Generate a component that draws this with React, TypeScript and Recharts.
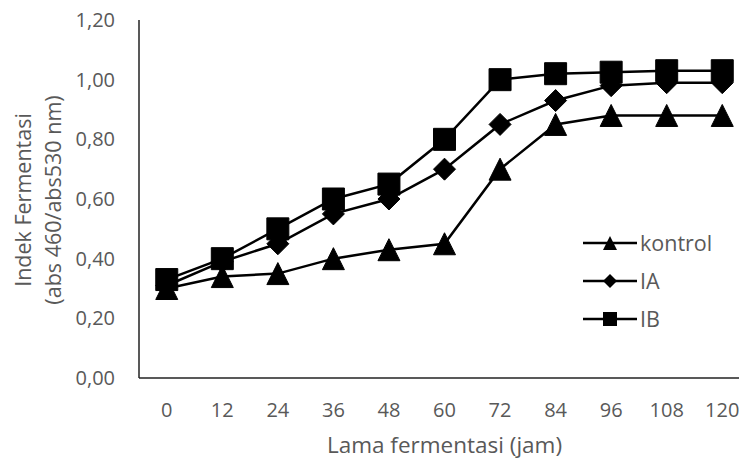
import { Legend, Line, LineChart, XAxis, YAxis } from "recharts";

const hours = ["0", "12", "24", "36", "48", "60", "72", "84", "96", "108", "120"];
const kontrol = [0.3, 0.34, 0.35, 0.4, 0.43, 0.45, 0.7, 0.85, 0.88, 0.88, 0.88];
const seriesIA = [0.31, 0.39, 0.45, 0.55, 0.6, 0.7, 0.85, 0.93, 0.98, 0.99, 0.99];
const seriesIB = [0.33, 0.4, 0.5, 0.6, 0.65, 0.8, 1.0, 1.02, 1.025, 1.03, 1.03];
const yTicks = [0, 0.2, 0.4, 0.6, 0.8, 1.0, 1.2];

const data = hours.map((jam, i) => ({
  jam,
  kontrol: kontrol[i],
  IA: seriesIA[i],
  IB: seriesIB[i],
}));

const FONT = "'Open Sans', sans-serif";
const TEXT = "#595959";

type Shape = "triangle" | "diamond" | "square";

function markerPath(shape: Shape, cx: number, cy: number, r: number) {
  if (shape === "triangle") {
    return `M${cx},${cy - r} L${cx + r},${cy + r} L${cx - r},${cy + r} Z`;
  }
  if (shape === "diamond") {
    return `M${cx},${cy - r} L${cx + r},${cy} L${cx},${cy + r} L${cx - r},${cy} Z`;
  }
  return `M${cx - r},${cy - r} H${cx + r} V${cy + r} H${cx - r} Z`;
}

const makeDot = (shape: Shape) => (props: any) => {
  const { cx, cy, index } = props;
  if (cx == null || cy == null) return <g key={index} />;
  return <path key={index} d={markerPath(shape, cx, cy, 11)} fill="#000" stroke="#000" />;
};

const legendItems: { name: string; shape: Shape }[] = [
  { name: "kontrol", shape: "triangle" },
  { name: "IA", shape: "diamond" },
  { name: "IB", shape: "square" },
];

function renderLegend() {
  return (
    <div style={{ fontFamily: FONT, fontSize: 21.5, color: TEXT }}>
      {legendItems.map((item) => (
        <div key={item.name} style={{ display: "flex", alignItems: "center", height: 38 }}>
          <svg width={57} height={20} style={{ display: "block" }}>
            <line x1={0} y1={10} x2={54} y2={10} stroke="#000" strokeWidth={2.5} />
            <path d={markerPath(item.shape, 27, 10, 7)} fill="#000" />
          </svg>
          <span style={{ lineHeight: "24px" }}>{item.name}</span>
        </div>
      ))}
    </div>
  );
}

function YTitle() {
  const cy = 200;
  return (
    <g fontFamily={FONT} fontSize={21.5} fill={TEXT} textAnchor="middle">
      <text x={22} y={cy} dominantBaseline="central" transform={`rotate(-90, 22, ${cy})`}>
        Indek Fermentasi
      </text>
      <text x={52} y={cy} dominantBaseline="central" transform={`rotate(-90, 52, ${cy})`}>
        (abs 460/abs530 nm)
      </text>
    </g>
  );
}

function XTitle(props: any) {
  const { viewBox } = props;
  const cx = viewBox.x + viewBox.width / 2;
  return (
    <text x={cx} y={453} textAnchor="middle" fontFamily={FONT} fontSize={22.5} fill={TEXT}>
      Lama fermentasi (jam)
    </text>
  );
}

export default function App() {
  return (
    <div
      style={{
        position: "absolute",
        left: 0,
        top: 0,
        width: 739,
        height: 462,
        overflow: "hidden",
        background: "#fff",
      }}
    >
      <LineChart width={760} height={462} data={data} margin={{ top: 20, right: 10, left: 0, bottom: 0 }}>
        <XAxis
          dataKey="jam"
          height={84}
          padding={{ left: 27.75, right: 27.75 }}
          tickLine={false}
          tickSize={0}
          tickMargin={25}
          stroke="#222"
          strokeWidth={1.5}
          tick={{ fill: TEXT, fontSize: 20, fontFamily: FONT }}
          interval={0}
          label={{ content: XTitle }}
        />
        <YAxis
          width={139}
          domain={[0, 1.2]}
          ticks={yTicks}
          tickLine={false}
          tickSize={0}
          tickMargin={24}
          stroke="#222"
          strokeWidth={1.5}
          tick={{ fill: TEXT, fontSize: 20, fontFamily: FONT }}
          tickFormatter={(v: number) => v.toFixed(2).replace(".", ",")}
          label={{ content: YTitle }}
        />
        <Legend
          content={renderLegend}
          layout="vertical"
          verticalAlign="middle"
          align="center"
          wrapperStyle={{ left: 583, top: 224, width: 150 }}
        />
        <Line
          dataKey="kontrol"
          stroke="#000"
          strokeWidth={2.5}
          dot={makeDot("triangle")}
          activeDot={false}
          isAnimationActive={false}
        />
        <Line
          dataKey="IA"
          stroke="#000"
          strokeWidth={2.5}
          dot={makeDot("diamond")}
          activeDot={false}
          isAnimationActive={false}
        />
        <Line
          dataKey="IB"
          stroke="#000"
          strokeWidth={2.5}
          dot={makeDot("square")}
          activeDot={false}
          isAnimationActive={false}
        />
      </LineChart>
    </div>
  );
}
